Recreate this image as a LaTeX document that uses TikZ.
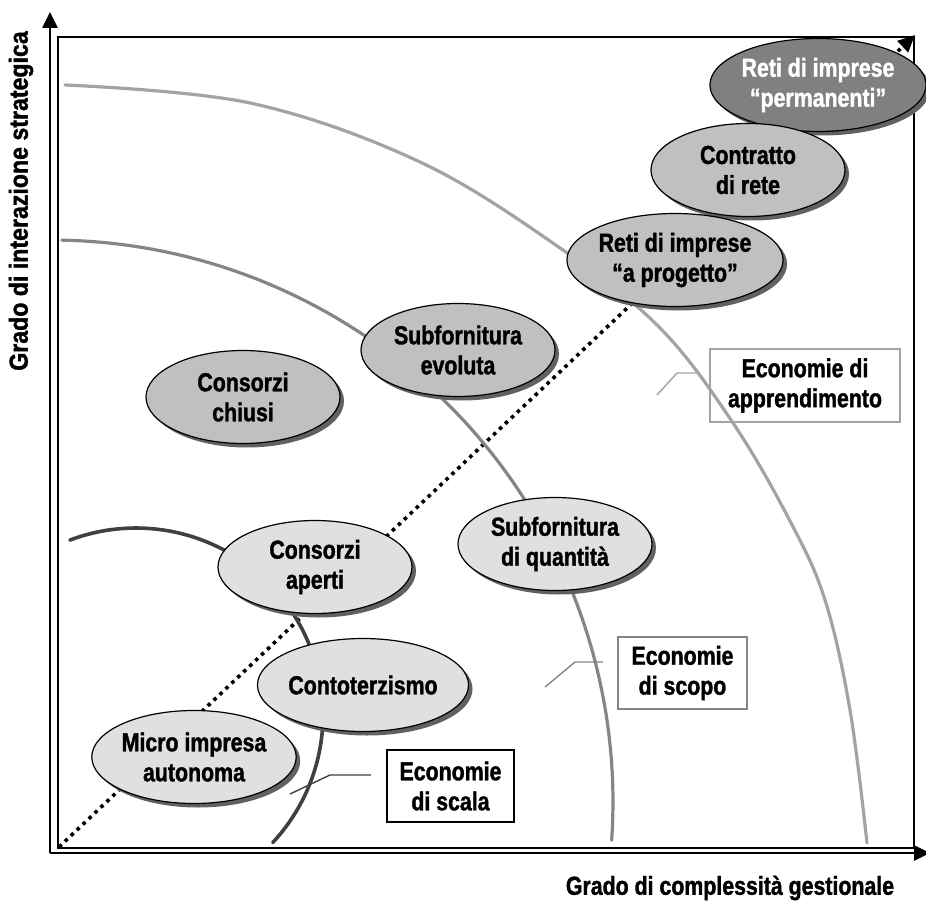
\documentclass[tikz,border=0pt]{standalone}
\usepackage{fontspec}
\setmainfont{Liberation Sans}[FakeStretch=0.82, FakeBold=1.4]
\newfontfamily\vfont{Liberation Sans}[FakeStretch=0.89, FakeBold=1.4]
\usetikzlibrary{shapes.geometric,shadows,arrows.meta}
\definecolor{elight}{HTML}{E0E0E0}
\definecolor{emid}{HTML}{C0C0C0}
\definecolor{edark}{HTML}{808080}
\definecolor{arcA}{HTML}{404040}
\definecolor{arcB}{HTML}{858585}
\definecolor{arcC}{HTML}{A3A3A3}
\begin{document}
\begin{tikzpicture}[x=1pt,y=-1pt,
  every node/.style={font=\fontsize{26}{30}\selectfont\bfseries, align=center},
  oval/.style={ellipse, draw=black, line width=1.2pt, minimum width=194pt, minimum height=93pt, inner sep=0pt,
    drop shadow={shadow xshift=4pt, shadow yshift=-4pt, fill=black!62, opacity=1}},
  light/.style={oval, fill=elight},
  mid/.style={oval, fill=emid},
  dark/.style={oval, fill=edark, text=white},
  ecobox/.style={draw, fill=white, line width=1.3pt, inner sep=0pt},
  arcline/.style={line width=3.2pt, line cap=round},
  leader/.style={line width=1.4pt},
  axis/.style={line width=2.6pt, -{Triangle[length=16pt,width=15pt]}}
]
\useasboundingbox (0,0) rectangle (926,901);

% frame and axes
\coordinate (FA) at (58,37);
\coordinate (FB) at (914,848);
\draw[line width=1.5pt] (FA) rectangle (FB);
\coordinate (O) at (50,853);
\coordinate (Ytop) at (50,12);
\coordinate (Xend) at (930,853);
\draw[axis] (O) -- (Ytop);
\draw[axis] (O) -- (Xend);

% diagonal
\coordinate (D0) at (59,847);
\coordinate (D1) at (915,35);
\draw[line width=3.6pt, dash pattern=on 3.6pt off 4.6pt, -{Triangle[length=17pt,width=15pt]}] (D0) -- (D1);

% label boxes
\node[ecobox, draw=black, minimum width=127pt, minimum height=72pt] (scala) at (450.5,786) {Economie\\di scala};
\node[ecobox, draw=arcB, minimum width=129pt, minimum height=72pt] (scopo) at (682.5,673) {Economie\\di scopo};
\node[ecobox, draw=arcC, minimum width=190pt, minimum height=73pt] (appr) at (805,385.5) {Economie di\\apprendimento};

% leaders
\coordinate (la1) at (290,794); \coordinate (la2) at (330,775); \coordinate (la3) at (371,775);
\draw[leader, arcA] (la1) -- (la2) -- (la3);
\coordinate (lb1) at (545,687); \coordinate (lb2) at (575,662); \coordinate (lb3) at (603,662);
\draw[leader, arcB] (lb1) -- (lb2) -- (lb3);
\coordinate (lc1) at (657,395); \coordinate (lc2) at (677,373); \coordinate (lc3) at (697,373);
\draw[leader, arcC] (lc1) -- (lc2) -- (lc3);

% arcs
\draw[arcline, arcC] plot[smooth, tension=0.6] coordinates {(65,85) (250,103) (420,162) (560,248) (660,328) (733,423) (790,521) (825,600) (850,710) (867,843)};
\draw[arcline, arcB] plot[domain=88.9:-3.9, samples=80, variable=\t] ({51+562*cos(\t)}, {802-562*sin(\t)});
\draw[arcline, arcA, line width=3.6pt] plot[domain=110.7:-43, samples=80, variable=\t] ({136+187*cos(\t)}, {715-187*sin(\t)});

% ellipses
\node[dark] (perm) at (818,85) {Reti di imprese\\“permanenti”};
\node[mid] (contr) at (748,170) {Contratto\\di rete};
\node[mid] (prog) at (675,260) {Reti di imprese\\“a progetto”};
\node[mid] (subev) at (458,350) {Subfornitura\\evoluta};
\node[mid] (chiusi) at (243,397) {Consorzi\\chiusi};
\node[light] (aperti) at (315,567) {Consorzi\\aperti};
\node[light] (quant) at (555,544) {Subfornitura\\di quantità};
\node[light] (conto) at (363,685) {Contoterzismo};
\node[light] (micro) at (194,757) {Micro impresa\\autonoma};

% axis labels
\node[font=\vfont\fontsize{26}{30}\selectfont\bfseries, rotate=90] (ylab) at (21,201) {Grado di interazione strategica};
\node (xlab) at (730,888) {Grado di complessità gestionale};
\end{tikzpicture}
\end{document}
